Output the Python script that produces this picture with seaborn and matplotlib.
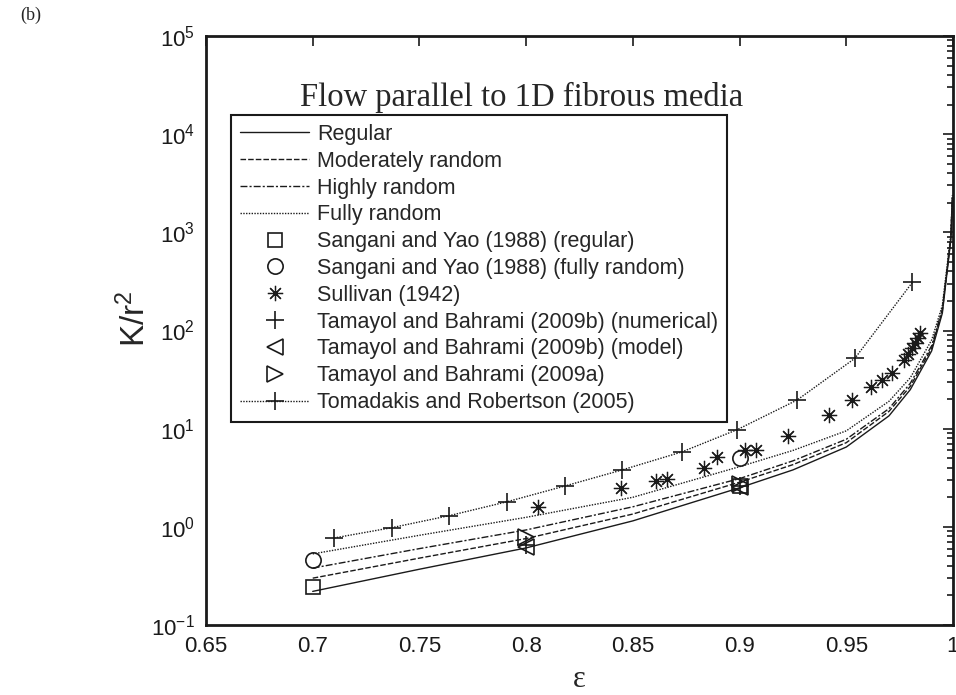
import numpy as np
import pandas as pd
import matplotlib
matplotlib.use("Agg")
import matplotlib.pyplot as plt
import seaborn as sns
from matplotlib.ticker import LogLocator, FixedLocator, NullFormatter, LogFormatterMathtext, FixedFormatter

# ---- model curves ----
eps_model = [0.70, 0.75, 0.80, 0.85, 0.90, 0.925, 0.95, 0.97, 0.98, 0.99, 0.995, 0.999, 0.9997]
regular = [0.22, 0.37, 0.61, 1.15, 2.5, 3.8, 6.5, 13.5, 25, 62, 150, 850, 2200]
moderately = [0.30, 0.48, 0.76, 1.35, 2.85, 4.3, 7.2, 15, 27, 66, 158, 880, 2250]
highly = [0.38, 0.60, 0.93, 1.6, 3.1, 4.7, 7.8, 16, 29, 70, 165, 900, 2300]
fully = [0.53, 0.82, 1.25, 2.0, 4.1, 6.0, 9.5, 19, 33, 80, 180, 950, 2400]

# ---- data points ----
sy_reg_x = [0.70, 0.90]
sy_reg_y = [0.245, 2.6]
sy_full_x = [0.70, 0.90]
sy_full_y = [0.46, 5.0]
sull_x = [0.8054, 0.8443, 0.8610, 0.8661, 0.8833, 0.8893, 0.9026, 0.9076, 0.9227,
          0.942, 0.9525, 0.9614, 0.9666, 0.9712, 0.977, 0.979, 0.9807, 0.9822, 0.9837, 0.9845]
sull_y = [1.60, 2.47, 2.95, 3.05, 4.0, 5.1, 6.06, 6.06, 8.4,
          13.8, 19.6, 26.4, 31.3, 37.2, 50, 57.5, 66, 74, 83, 93.6]
tb_num_x = [0.80, 0.90]
tb_num_y = [0.65, 2.6]
tb_model_x = [0.80, 0.90]
tb_model_y = [0.63, 2.55]
tb_a_x = [0.80, 0.90]
tb_a_y = [0.78, 2.7]
tom_x = [0.710, 0.737, 0.764, 0.791, 0.818, 0.845, 0.873, 0.899, 0.927, 0.954, 0.981]
tom_y = [0.77, 0.98, 1.30, 1.80, 2.6, 3.8, 5.8, 9.8, 19.6, 52, 310]

x_ticks = [0.65, 0.7, 0.75, 0.8, 0.85, 0.9, 0.95, 1.0]
x_tick_labels = ["0.65", "0.7", "0.75", "0.8", "0.85", "0.9", "0.95", "1"]

sns.set_theme(style="white")
plt.rcParams["font.family"] = ["Liberation Sans", "DejaVu Sans"]
plt.rcParams["mathtext.fontset"] = "custom"
plt.rcParams["mathtext.rm"] = "Liberation Sans"
plt.rcParams["mathtext.it"] = "Liberation Sans:italic"
plt.rcParams["mathtext.bf"] = "Liberation Sans:bold"
plt.rcParams["axes.unicode_minus"] = False

fig = plt.figure(figsize=(9.56, 6.95), dpi=100)
ax = fig.add_axes([206 / 956, 70 / 695, 747 / 956, 589 / 695])

lw = 1.0
curve_specs = [
    (regular, "-", "Regular"),
    (moderately, (0, (4, 1.5)), "Moderately random"),
    (highly, (0, (5, 1.5, 1.5, 1.5)), "Highly random"),
    (fully, (0, (1, 1)), "Fully random"),
]
for vals, ls, lab in curve_specs:
    sns.lineplot(x=eps_model, y=vals, ax=ax, color="k", lw=lw, linestyle=ls,
                 label=lab, estimator=None, sort=False)

marker_specs = [
    (sy_reg_x, sy_reg_y, "s", 10, 1.2, "Sangani and Yao (1988) (regular)"),
    (sy_full_x, sy_full_y, "o", 11, 1.2, "Sangani and Yao (1988) (fully random)"),
    (sull_x, sull_y, (8, 2, 0), 11, 0.9, "Sullivan (1942)"),
    (tb_num_x, tb_num_y, "+", 13, 1.2, "Tamayol and Bahrami (2009b) (numerical)"),
    (tb_model_x, tb_model_y, "<", 11, 1.2, "Tamayol and Bahrami (2009b) (model)"),
    (tb_a_x, tb_a_y, ">", 11, 1.2, "Tamayol and Bahrami (2009a)"),
]
for xs, ys, mk, ms, mw, lab in marker_specs:
    sns.lineplot(x=xs, y=ys, ax=ax, color="k", linestyle="none", marker=mk,
                 ms=ms, mfc="none", mec="k", mew=mw, label=lab,
                 estimator=None, sort=False)

sns.lineplot(x=tom_x, y=tom_y, ax=ax, color="k", lw=lw, linestyle=(0, (1, 1)),
             marker="+", ms=13, mec="k", mew=1.2, label="Tomadakis and Robertson (2005)",
             estimator=None, sort=False)

ax.set_yscale("log")
ax.set_xlim(0.65, 1.0)
ax.set_ylim(0.1, 1e5)
ax.xaxis.set_major_locator(FixedLocator(x_ticks))
ax.xaxis.set_major_formatter(FixedFormatter(x_tick_labels))
ax.yaxis.set_major_locator(LogLocator(base=10, numticks=20))
ax.yaxis.set_major_formatter(LogFormatterMathtext())
ax.yaxis.set_minor_locator(LogLocator(base=10, subs=np.arange(2, 10), numticks=20))
ax.yaxis.set_minor_formatter(NullFormatter())

ax.tick_params(which="both", direction="in", top=True, right=True, colors="k",
               labelsize=16, width=1.2)
ax.tick_params(which="major", length=7)
ax.tick_params(axis="x", which="major", pad=8)
ax.tick_params(axis="y", which="major", pad=8)
ax.tick_params(which="minor", length=4)
ax.tick_params(axis="x", which="minor", bottom=False, top=False)
for s in ax.spines.values():
    s.set_linewidth(2)
    s.set_color("k")
    s.set_visible(True)

ax.set_xlabel("ε", fontsize=22, family="Liberation Serif", labelpad=6)
ax.set_ylabel("K/r$^2$", fontsize=24)
ax.yaxis.set_label_coords(-0.072, 0.52)

ax.text((300 - 206) / 747, 0.895, "Flow parallel to 1D fibrous media", transform=ax.transAxes,
        ha="left", va="center", fontsize=23.5, family="Liberation Serif")

leg = ax.legend(loc="upper left", bbox_to_anchor=(0.034, 0.866), fontsize=15.5,
                frameon=True, fancybox=False, edgecolor="k", framealpha=1,
                handlelength=3.2, handletextpad=0.37, labelspacing=0.27,
                borderpad=0.42, borderaxespad=0)
leg.get_frame().set_linewidth(1.5)

fig.text(20 / 956, 1 - 15 / 695, "(b)", fontsize=13, family="Liberation Serif",
         ha="left", va="center")

fig.savefig("out.png", dpi=100)
